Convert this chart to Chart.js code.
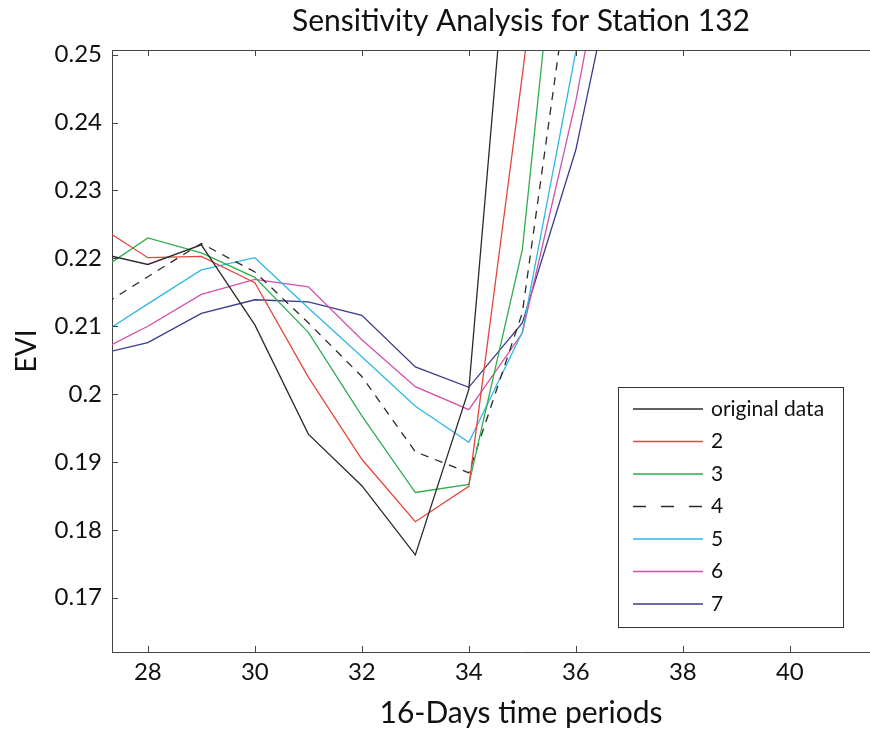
<!DOCTYPE html>
<html>
<head>
<meta charset="utf-8">
<script src="https://cdn.jsdelivr.net/npm/chart.js@4.4.0/dist/chart.umd.min.js"></script>
<style>
  html, body { margin: 0; padding: 0; background: #fff; overflow: hidden; }
  #wrap { width: 930px; height: 734px; }
</style>
</head>
<body>
<div id="wrap"><canvas id="chart" width="930" height="734"></canvas></div>
<script>
// 16-day periods (27 and 37 fall outside the visible window and get clipped)
const periods = [27, 28, 29, 30, 31, 32, 33, 34, 35, 36, 37];
const originalData = [0.2209, 0.2191, 0.2220, 0.2102, 0.1941, 0.1865, 0.1763, 0.2007, 0.2930, 0.3300, 0.3500];
const win2 = [0.2252, 0.2201, 0.2203, 0.2164, 0.2025, 0.1904, 0.1812, 0.1864, 0.2470, 0.3100, 0.3300];
const win3 = [0.2177, 0.2230, 0.2208, 0.2172, 0.2091, 0.1968, 0.1855, 0.1867, 0.2213, 0.2970, 0.3200];
const win4 = [0.2123, 0.2173, 0.2222, 0.2180, 0.2105, 0.2026, 0.1915, 0.1884, 0.2120, 0.2686, 0.3100];
const win5 = [0.2082, 0.2133, 0.2183, 0.2201, 0.2127, 0.2055, 0.1982, 0.1929, 0.2091, 0.2505, 0.2900];
const win6 = [0.2060, 0.2100, 0.2147, 0.2169, 0.2158, 0.2080, 0.2011, 0.1977, 0.2090, 0.2432, 0.2850];
const win7 = [0.2057, 0.2076, 0.2119, 0.2139, 0.2136, 0.2116, 0.2040, 0.2010, 0.2105, 0.2360, 0.2734];

const seriesLabels = ['original data', '2', '3', '4', '5', '6', '7'];
const seriesColors = ['#2b2b2b', '#e4463e', '#2fae4e', '#2b2b2b', '#2fb7e6', '#d450a8', '#3b3b8c'];
const xTicks = [28, 30, 32, 34, 36, 38, 40];
const yTicks = [0.17, 0.18, 0.19, 0.2, 0.21, 0.22, 0.23, 0.24, 0.25];

const allSeries = [originalData, win2, win3, win4, win5, win6, win7];

const datasets = allSeries.map((vals, i) => ({
  label: seriesLabels[i],
  data: periods.map((p, j) => ({ x: p, y: vals[j] })),
  borderColor: seriesColors[i],
  borderWidth: 1.3,
  borderDash: seriesLabels[i] === '4' ? [8, 7] : [],
  pointRadius: 0,
  tension: 0,
  fill: false
}));

// matlab-like box: inward ticks, top border and legend inside the axes
const boxPlugin = {
  id: 'box',
  afterDraw(chart) {
    const { ctx, chartArea: a, scales } = chart;
    ctx.save();
    ctx.strokeStyle = '#444';
    ctx.lineWidth = 1;
    ctx.beginPath();
    ctx.moveTo(a.left, a.top + 0.5);
    ctx.lineTo(a.right, a.top + 0.5);
    xTicks.forEach(v => {
      const px = Math.round(scales.x.getPixelForValue(v)) + 0.5;
      ctx.moveTo(px, a.bottom); ctx.lineTo(px, a.bottom - 6);
      ctx.moveTo(px, a.top); ctx.lineTo(px, a.top + 6);
    });
    yTicks.forEach(v => {
      const py = Math.round(scales.y.getPixelForValue(v)) + 0.5;
      ctx.moveTo(a.left, py); ctx.lineTo(a.left + 6, py);
      ctx.moveTo(a.right, py); ctx.lineTo(a.right - 6, py);
    });
    ctx.stroke();

    // legend
    const lx = 618, ly = 387, lw = 225, lh = 240;
    ctx.fillStyle = '#fff';
    ctx.fillRect(lx, ly, lw, lh);
    ctx.strokeStyle = '#333';
    ctx.strokeRect(lx + 0.5, ly + 0.5, lw, lh);
    ctx.font = '21px Lato';
    ctx.textBaseline = 'middle';
    chart.data.datasets.forEach((ds, i) => {
      const y = ly + 22 + i * 32.5;
      ctx.strokeStyle = ds.borderColor;
      ctx.lineWidth = 1.3;
      ctx.setLineDash(ds.borderDash.length ? [13, 15] : []);
      ctx.beginPath();
      ctx.moveTo(lx + 15, y);
      ctx.lineTo(lx + 85, y);
      ctx.stroke();
      ctx.setLineDash([]);
      ctx.fillStyle = '#111';
      ctx.fillText(ds.label, lx + 93, y);
    });
    ctx.restore();
  }
};

Chart.defaults.font.family = 'Lato';
Chart.defaults.color = '#111';

new Chart(document.getElementById('chart').getContext('2d'), {
  type: 'line',
  data: { datasets },
  options: {
    responsive: false,
    animation: false,
    layout: { padding: 0 },
    plugins: {
      legend: { display: false },
      tooltip: { enabled: false },
      title: {
        display: true,
        text: 'Sensitivity Analysis for Station 132',
        fullSize: false,
        font: { size: 30, weight: 'normal', lineHeight: 1.2 },
        color: '#111',
        padding: { top: 3, bottom: 11 }
      }
    },
    scales: {
      x: {
        type: 'linear',
        min: 27.33,
        max: 42.62,
        afterBuildTicks: axis => { axis.ticks = xTicks.map(v => ({ value: v })); },
        afterFit: axis => { axis.height = 82; },
        grid: { display: false, drawTicks: false },
        border: { display: true, color: '#444', width: 1 },
        ticks: { font: { size: 24 }, padding: 6, maxRotation: 0, callback: v => String(v) },
        title: { display: true, text: '16-Days time periods', font: { size: 30, lineHeight: 1.2 }, padding: { top: 0, bottom: 3 } }
      },
      y: {
        type: 'linear',
        min: 0.1620,
        max: 0.2507,
        afterBuildTicks: axis => { axis.ticks = yTicks.map(v => ({ value: v })); },
        afterFit: axis => { axis.width = 112; },
        grid: { display: false, drawTicks: false },
        border: { display: true, color: '#444', width: 1 },
        ticks: { font: { size: 24 }, padding: 10, callback: v => String(+v.toFixed(2)) },
        title: { display: true, text: 'EVI', font: { size: 28, lineHeight: 1.2 }, padding: { top: 10, bottom: 0 } }
      }
    }
  },
  plugins: [boxPlugin]
});
</script>
</body>
</html>
